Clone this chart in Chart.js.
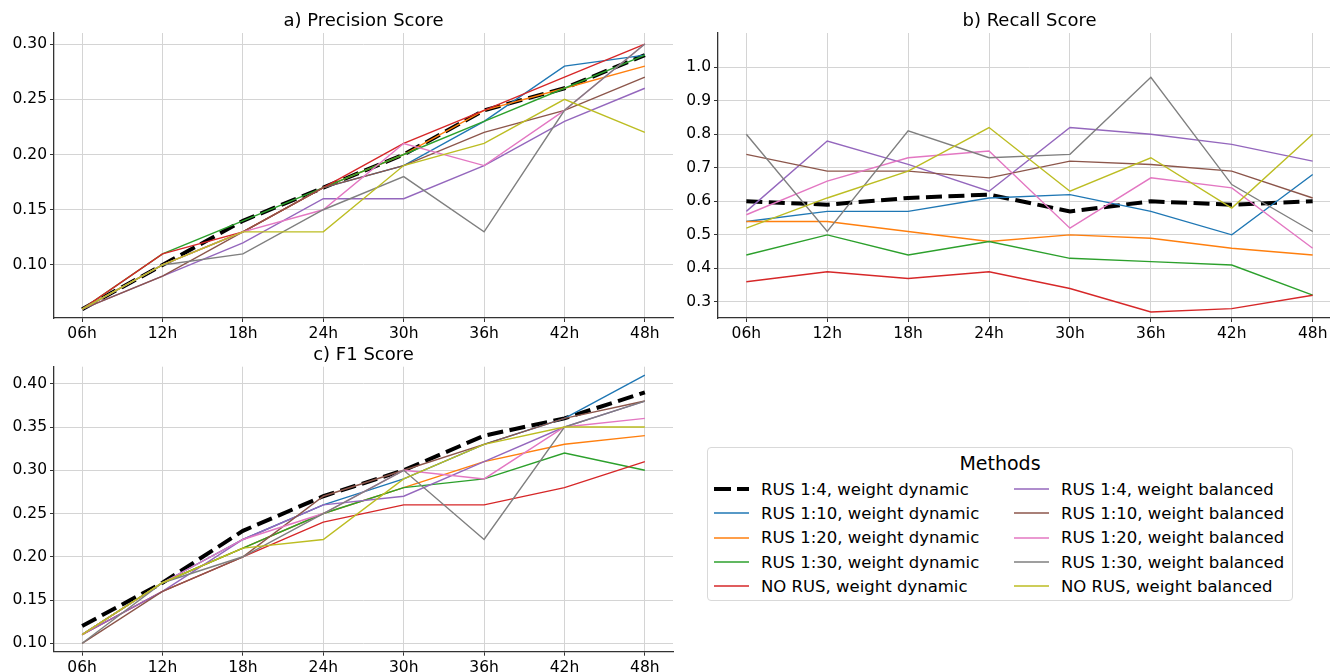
<!DOCTYPE html>
<html>
<head>
<meta charset="utf-8">
<script src="https://cdn.jsdelivr.net/npm/chart.js@4.4.1/dist/chart.umd.min.js"></script>
<style>
  body { margin: 0; width: 1330px; height: 672px; overflow: hidden; background: #fff; position: relative; font-family: "DejaVu Sans", sans-serif; }
  canvas { position: absolute; }
  #legend { position: absolute; left: 707px; top: 447px; width: 586px; height: 154px; border: 1px solid #d9d9d9; border-radius: 4px; box-sizing: border-box; }
  #legend .title { position: absolute; left: 0; right: 0; top: 4px; text-align: center; font-size: 19px; line-height: 23px; color: #000; }
  #legend .item { position: absolute; height: 24px; display: flex; align-items: center; font-size: 16.5px; color: #000; white-space: nowrap; }
  #legend svg { margin-right: 12px; }
</style>
</head>
<body>
<canvas id="precisionChart" width="680" height="345" style="left:0;top:0"></canvas>
<canvas id="recallChart" width="670" height="345" style="left:680px;top:0"></canvas>
<canvas id="f1Chart" width="680" height="345" style="left:0;top:335px"></canvas>
<div id="legend"></div>
<script>
const hours = ['06h', '12h', '18h', '24h', '30h', '36h', '42h', '48h'];

const methods = [
    'RUS 1:4, weight dynamic', 'RUS 1:10, weight dynamic', 'RUS 1:20, weight dynamic',
    'RUS 1:30, weight dynamic', 'NO RUS, weight dynamic', 'RUS 1:4, weight balanced',
    'RUS 1:10, weight balanced', 'RUS 1:20, weight balanced', 'RUS 1:30, weight balanced',
    'NO RUS, weight balanced'
];
const colors = ['#000000', '#1f77b4', '#ff7f0e', '#2ca02c', '#d62728',
                '#9467bd', '#8c564b', '#e377c2', '#7f7f7f', '#bcbd22'];

// one row per method, same order as above
const precision = [
    [0.06, 0.10, 0.14, 0.17, 0.20, 0.24, 0.26, 0.29],
    [0.06, 0.10, 0.13, 0.17, 0.19, 0.23, 0.28, 0.29],
    [0.06, 0.10, 0.13, 0.17, 0.20, 0.24, 0.26, 0.28],
    [0.06, 0.11, 0.14, 0.17, 0.20, 0.23, 0.26, 0.29],
    [0.06, 0.11, 0.13, 0.17, 0.21, 0.24, 0.27, 0.30],
    [0.06, 0.09, 0.12, 0.16, 0.16, 0.19, 0.23, 0.26],
    [0.06, 0.09, 0.13, 0.17, 0.19, 0.22, 0.24, 0.27],
    [0.06, 0.10, 0.13, 0.15, 0.21, 0.19, 0.24, 0.30],
    [0.06, 0.10, 0.11, 0.15, 0.18, 0.13, 0.24, 0.30],
    [0.06, 0.10, 0.13, 0.13, 0.19, 0.21, 0.25, 0.22]
];
const recall = [
    [0.60, 0.59, 0.61, 0.62, 0.57, 0.60, 0.59, 0.60],
    [0.54, 0.57, 0.57, 0.61, 0.62, 0.57, 0.50, 0.68],
    [0.54, 0.54, 0.51, 0.48, 0.50, 0.49, 0.46, 0.44],
    [0.44, 0.50, 0.44, 0.48, 0.43, 0.42, 0.41, 0.32],
    [0.36, 0.39, 0.37, 0.39, 0.34, 0.27, 0.28, 0.32],
    [0.57, 0.78, 0.71, 0.63, 0.82, 0.80, 0.77, 0.72],
    [0.74, 0.69, 0.69, 0.67, 0.72, 0.71, 0.69, 0.61],
    [0.56, 0.66, 0.73, 0.75, 0.52, 0.67, 0.64, 0.46],
    [0.80, 0.51, 0.81, 0.73, 0.74, 0.97, 0.65, 0.51],
    [0.52, 0.61, 0.69, 0.82, 0.63, 0.73, 0.58, 0.80]
];
const f1 = [
    [0.12, 0.17, 0.23, 0.27, 0.30, 0.34, 0.36, 0.39],
    [0.11, 0.17, 0.22, 0.26, 0.29, 0.33, 0.36, 0.41],
    [0.11, 0.17, 0.21, 0.25, 0.28, 0.31, 0.33, 0.34],
    [0.11, 0.17, 0.21, 0.25, 0.28, 0.29, 0.32, 0.30],
    [0.11, 0.16, 0.20, 0.24, 0.26, 0.26, 0.28, 0.31],
    [0.11, 0.16, 0.22, 0.26, 0.27, 0.31, 0.35, 0.38],
    [0.10, 0.16, 0.20, 0.27, 0.30, 0.33, 0.36, 0.38],
    [0.11, 0.17, 0.22, 0.25, 0.30, 0.29, 0.35, 0.36],
    [0.10, 0.17, 0.20, 0.25, 0.30, 0.22, 0.35, 0.38],
    [0.11, 0.17, 0.21, 0.22, 0.29, 0.33, 0.35, 0.35]
];

const precisionTicks = [0.10, 0.15, 0.20, 0.25, 0.30];
const recallTicks = [0.3, 0.4, 0.5, 0.6, 0.7, 0.8, 0.9, 1.0];
const f1Ticks = [0.10, 0.15, 0.20, 0.25, 0.30, 0.35, 0.40];

const FONT = '"DejaVu Sans", sans-serif';
const GRID = '#d4d4d4';
const AXIS = '#333333';

// draws the subplot title centred over the plot area, like matplotlib
const titlePlugin = {
    id: 'axTitle',
    afterDraw(chart, args, opts) {
        const { ctx, chartArea } = chart;
        ctx.save();
        ctx.font = '18px ' + FONT;
        ctx.fillStyle = '#000';
        ctx.textAlign = 'center';
        ctx.textBaseline = 'middle';
        ctx.fillText(opts.text, (chartArea.left + chartArea.right) / 2, opts.y);
        ctx.restore();
    }
};

function makeChart(id, cfg) {
    const datasets = cfg.rows.map((row, i) => ({
        label: methods[i],
        data: row.map((v, j) => ({ x: j, y: v })),
        borderColor: colors[i],
        backgroundColor: colors[i],
        borderWidth: i === 0 ? 4 : 1.4,
        borderDash: i === 0 ? [16, 6.5] : [],
        borderCapStyle: 'butt',
        pointRadius: 0,
        tension: 0,
        fill: false,
        order: cfg.rows.length - i
    }));

    new Chart(document.getElementById(id), {
        type: 'line',
        data: { datasets },
        options: {
            responsive: false,
            animation: false,
            devicePixelRatio: 1,
            layout: { padding: { top: cfg.top, right: cfg.right, left: 0, bottom: 0 } },
            plugins: {
                legend: { display: false },
                tooltip: { enabled: false },
                axTitle: { text: cfg.title, y: cfg.titleY }
            },
            scales: {
                x: {
                    type: 'linear',
                    min: -0.35,
                    max: 7.35,
                    afterBuildTicks: (axis) => { axis.ticks = hours.map((h, i) => ({ value: i })); },
                    afterFit: (axis) => { axis.height = cfg.xHeight; },
                    ticks: {
                        autoSkip: false,
                        maxRotation: 0,
                        padding: 3,
                        color: '#000',
                        font: { family: FONT, size: 15.5 },
                        callback: (v) => hours[v]
                    },
                    grid: { color: GRID, lineWidth: 1, tickColor: AXIS, tickLength: 4 },
                    border: { color: AXIS, width: 1.3 }
                },
                y: {
                    min: cfg.yMin,
                    max: cfg.yMax,
                    afterBuildTicks: (axis) => { axis.ticks = cfg.ticks.map(v => ({ value: v })); },
                    afterFit: (axis) => { axis.width = cfg.yWidth; },
                    ticks: {
                        padding: 3,
                        color: '#000',
                        font: { family: FONT, size: 15.5 },
                        callback: (v) => v.toFixed(cfg.decimals)
                    },
                    grid: { color: GRID, lineWidth: 1, tickColor: AXIS, tickLength: 4 },
                    border: { color: AXIS, width: 1.3 }
                }
            }
        },
        plugins: [titlePlugin]
    });
}

makeChart('precisionChart', {
    title: 'a) Precision Score', titleY: 21.5, rows: precision, ticks: precisionTicks, decimals: 2,
    yMin: 0.052, yMax: 0.310, top: 33, right: 7, yWidth: 54, xHeight: 27
});
makeChart('recallChart', {
    title: 'b) Recall Score', titleY: 21.5, rows: recall, ticks: recallTicks, decimals: 1,
    yMin: 0.252, yMax: 1.102, top: 33, right: 9, yWidth: 38, xHeight: 27
});
makeChart('f1Chart', {
    title: 'c) F1 Score', titleY: 20, rows: f1, ticks: f1Ticks, decimals: 2,
    yMin: 0.0903, yMax: 0.4197, top: 31.7, right: 7, yWidth: 54, xHeight: 28.3
});

// legend box, two columns of five
const legend = document.getElementById('legend');
legend.innerHTML = '<div class="title">Methods</div>';
methods.forEach((name, i) => {
    const col = Math.floor(i / 5);
    const row = i % 5;
    const item = document.createElement('div');
    item.className = 'item';
    item.style.left = (col === 0 ? 6 : 306) + 'px';
    item.style.top = (29 + row * 24.35) + 'px';
    const dash = i === 0 ? ' stroke-dasharray="17 6"' : '';
    const w = i === 0 ? 4 : 1.5;
    item.innerHTML = '<svg width="35" height="10"><line x1="0" y1="5" x2="35" y2="5" stroke="' + colors[i] +
        '" stroke-width="' + w + '"' + dash + '/></svg>' + name;
    legend.appendChild(item);
});
</script>
</body>
</html>
